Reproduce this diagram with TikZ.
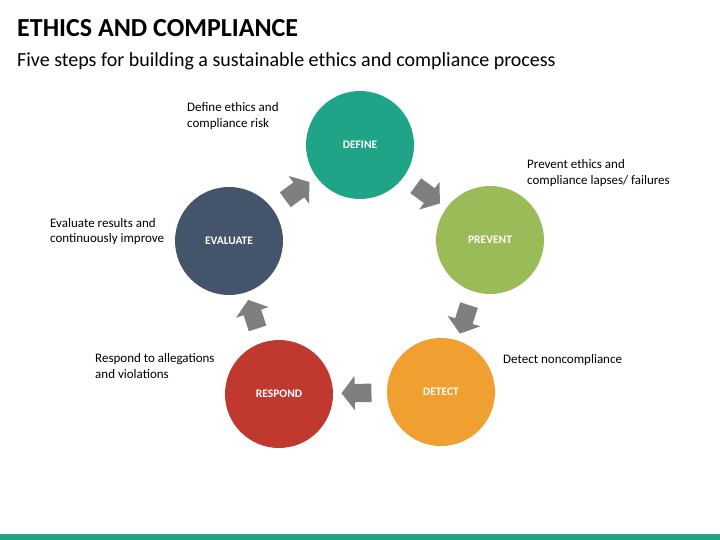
\documentclass[tikz,border=0pt]{standalone}
\usepackage{fontspec}
\setmainfont{Carlito}
\usetikzlibrary{shapes.arrows}

\definecolor{defteal}{RGB}{31,164,136}
\definecolor{prevgreen}{RGB}{155,187,89}
\definecolor{detorange}{RGB}{240,160,48}
\definecolor{resred}{RGB}{192,57,48}
\definecolor{evalslate}{RGB}{68,84,106}
\definecolor{arrowgray}{RGB}{127,127,127}

\begin{document}
\begin{tikzpicture}[x=1pt, y=-1pt,
    stepcircle/.style={circle, minimum size=108pt, inner sep=0pt, text=white,
      font=\bfseries\fontsize{11.5}{13}\selectfont},
    steplabel/.style={anchor=base west, align=left, inner sep=0pt,
      font=\fontsize{13}{16}\selectfont},
    steparrow/.style={single arrow, fill=arrowgray, inner sep=0pt,
      text height=18pt, text depth=0pt, text width=0pt,
      minimum height=30pt, single arrow head extend=8pt,
      single arrow tip angle=105, sloped, allow upside down}]
          \useasboundingbox (0,0) rectangle (720,540);
          
          % Title
          \node[anchor=base west, inner sep=0pt, font=\bfseries\fontsize{26}{30}\selectfont]
            (title) at (17,37) {ETHICS AND COMPLIANCE};
          \node[anchor=base west, inner sep=0pt, font=\fontsize{20}{24}\selectfont]
            (subtitle) at (17,67) {Five steps for building a sustainable ethics and compliance process};
          
          % Circles
          \node[stepcircle, fill=defteal] (define) at (360,145) {DEFINE};
          \node[stepcircle, fill=prevgreen] (prevent) at (490,240) {PREVENT};
          \node[stepcircle, fill=detorange] (detect) at (441,392) {DETECT};
          \node[stepcircle, fill=resred] (respond) at (279,394) {RESPOND};
          \node[stepcircle, fill=evalslate] (evaluate) at (229,241) {EVALUATE};
          
          % Arrows
          \path (evaluate) -- (define) node[midway, steparrow] (a1) {};
          \path (define) -- (prevent) node[midway, steparrow] (a2) {};
          \path (prevent) -- (detect) node[midway, steparrow] (a3) {};
          \path (detect) -- (respond) node[midway, steparrow] (a4) {};
          \path (respond) -- (evaluate) node[midway, steparrow] (a5) {};
          
          % Labels (base is the last line)
          \node[steplabel] (deftext) at (187,128) {Define ethics and\\compliance risk};
          \node[steplabel] (prevtext) at (527,185) {Prevent ethics and\\compliance lapses/ failures};
          \node[steplabel] (dettext) at (503,363) {Detect noncompliance};
          \node[steplabel] (restext) at (95,378) {Respond to allegations\\and violations};
          \node[steplabel] (evaltext) at (50,243) {Evaluate results and\\continuously improve};
          
          % Bottom bar
          \fill[defteal] (0,534) rectangle (720,540);
        \end{tikzpicture}
\end{document}
